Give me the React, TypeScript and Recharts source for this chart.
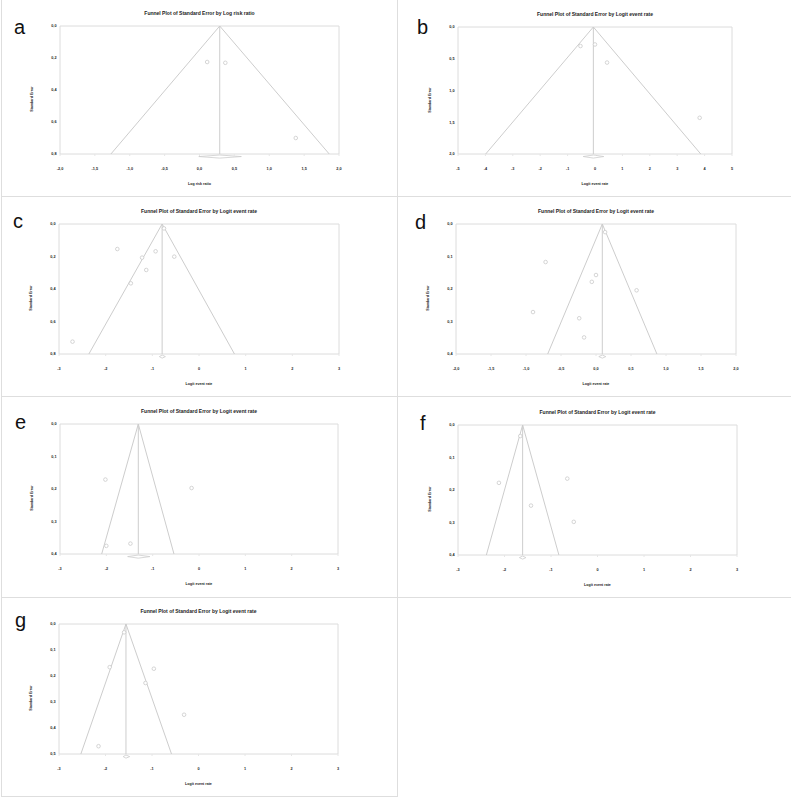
import React from 'react';
import { ComposedChart, XAxis, YAxis, Scatter, ReferenceLine, ReferenceArea } from 'recharts';

// panel letters, titles and axis names
const letters = ['a', 'b', 'c', 'd', 'e', 'f', 'g'];
const titles = [
  'Funnel Plot of Standard Error by Log risk ratio',
  'Funnel Plot of Standard Error by Logit event rate',
  'Funnel Plot of Standard Error by Logit event rate',
  'Funnel Plot of Standard Error by Logit event rate',
  'Funnel Plot of Standard Error by Logit event rate',
  'Funnel Plot of Standard Error by Logit event rate',
  'Funnel Plot of Standard Error by Logit event rate',
];
const xLabels = ['Log risk ratio', 'Logit event rate', 'Logit event rate', 'Logit event rate', 'Logit event rate', 'Logit event rate', 'Logit event rate'];
const yLabel = 'Standard Error';

// tick values
const xTicks = [
  [-2, -1.5, -1, -0.5, 0, 0.5, 1, 1.5, 2],
  [-5, -4, -3, -2, -1, 0, 1, 2, 3, 4, 5],
  [-3, -2, -1, 0, 1, 2, 3],
  [-2, -1.5, -1, -0.5, 0, 0.5, 1, 1.5, 2],
  [-3, -2, -1, 0, 1, 2, 3],
  [-3, -2, -1, 0, 1, 2, 3],
  [-3, -2, -1, 0, 1, 2, 3],
];
const xDecimals = [1, 0, 0, 1, 0, 0, 0];
const yTicks = [
  [0, 0.2, 0.4, 0.6, 0.8],
  [0, 0.5, 1, 1.5, 2],
  [0, 0.2, 0.4, 0.6, 0.8],
  [0, 0.1, 0.2, 0.3, 0.4],
  [0, 0.1, 0.2, 0.3, 0.4],
  [0, 0.1, 0.2, 0.3, 0.4],
  [0, 0.1, 0.2, 0.3, 0.4, 0.5],
];

// pooled estimate, funnel limits at max SE, and CI of the pooled diamond
const pooled = [0.29, -0.06, -0.79, 0.09, -1.31, -1.61, -1.56];
const funnelLo = [-1.27, -3.99, -2.36, -0.69, -2.1, -2.39, -2.53];
const funnelHi = [1.86, 3.86, 0.76, 0.87, -0.54, -0.83, -0.58];
const ciLo = [-0.01, -0.43, -0.85, 0.04, -1.54, -1.68, -1.62];
const ciHi = [0.6, 0.32, -0.72, 0.14, -1.06, -1.54, -1.48];

// studies (effect, standard error)
const studiesA = [
  { x: 0.11, se: 0.225 },
  { x: 0.37, se: 0.23 },
  { x: 1.38, se: 0.7 },
];
const studiesB = [
  { x: -0.53, se: 0.3 },
  { x: 0.0, se: 0.275 },
  { x: 0.44, se: 0.56 },
  { x: 3.82, se: 1.43 },
];
const studiesC = [
  { x: -1.75, se: 0.154 },
  { x: -0.93, se: 0.168 },
  { x: -1.22, se: 0.207 },
  { x: -0.53, se: 0.201 },
  { x: -1.13, se: 0.283 },
  { x: -1.46, se: 0.365 },
  { x: -2.71, se: 0.724 },
  { x: -0.75, se: 0.027 },
];
const studiesD = [
  { x: 0.13, se: 0.025 },
  { x: -0.72, se: 0.117 },
  { x: 0.0, se: 0.157 },
  { x: -0.06, se: 0.178 },
  { x: 0.58, se: 0.204 },
  { x: -0.9, se: 0.271 },
  { x: -0.24, se: 0.29 },
  { x: -0.17, se: 0.349 },
];
const studiesE = [
  { x: -2.02, se: 0.171 },
  { x: -0.16, se: 0.197 },
  { x: -2.0, se: 0.375 },
  { x: -1.48, se: 0.368 },
];
const studiesF = [
  { x: -1.66, se: 0.034 },
  { x: -2.12, se: 0.178 },
  { x: -0.65, se: 0.165 },
  { x: -1.43, se: 0.248 },
  { x: -0.51, se: 0.298 },
];
const studiesG = [
  { x: -1.6, se: 0.032 },
  { x: -1.91, se: 0.166 },
  { x: -0.96, se: 0.172 },
  { x: -1.14, se: 0.227 },
  { x: -0.31, se: 0.349 },
  { x: -2.15, se: 0.47 },
];
const studies = [studiesA, studiesB, studiesC, studiesD, studiesE, studiesF, studiesG];

// plot box of each panel on the page, and letter anchor
const boxes = [
  { x: 60, y: 26, w: 279, h: 128, lx: 14, ly: 34 },
  { x: 458, y: 27, w: 274, h: 127, lx: 417, ly: 34 },
  { x: 59, y: 224, w: 280, h: 130, lx: 13, ly: 228 },
  { x: 456, y: 224, w: 280, h: 130, lx: 415, ly: 229 },
  { x: 60, y: 424, w: 278, h: 130, lx: 15, ly: 429 },
  { x: 458, y: 425, w: 279, h: 130, lx: 420, ly: 430 },
  { x: 59, y: 624, w: 279, h: 130, lx: 15, ly: 627 },
];

const FONT = '"Liberation Sans", Arial, sans-serif';
const TEXT = '#222';
const LINE = '#cdcdcd';
const BOX = '#dcdcdc';
const CELL = '#dedede';

const fmt = (v: number, d: number) => v.toFixed(d).replace('.', ',');

function Panel({ i }: { i: number }) {
  const b = boxes[i];
  const xt = xTicks[i];
  const yt = yTicks[i];
  const xMin = xt[0];
  const xMax = xt[xt.length - 1];
  const yMax = yt[yt.length - 1];
  // diamond sits just under the plot box
  const yd = yMax * 1.02;
  const hd = yMax * 0.012;
  const diamond = [
    { x: ciLo[i], y: yd },
    { x: pooled[i], y: yd - hd },
    { x: ciHi[i], y: yd },
    { x: pooled[i], y: yd + hd },
  ];
  const tickStyle = { fontSize: 3.8, fill: TEXT, fontWeight: 700, fontFamily: FONT };

  return (
    <>
      <div
        style={{
          position: 'absolute',
          left: b.x,
          top: b.y - 18,
          width: b.w,
          height: 10,
          lineHeight: '10px',
          textAlign: 'center',
          fontFamily: FONT,
          fontWeight: 700,
          fontSize: 5,
          color: TEXT,
          whiteSpace: 'nowrap',
        }}
      >
        {titles[i]}
      </div>
      <div
        style={{
          position: 'absolute',
          left: b.lx,
          top: b.ly - 17,
          lineHeight: '20px',
          fontFamily: FONT,
          fontSize: 20,
          color: '#111',
        }}
      >
        {letters[i]}
      </div>
      <div
        style={{
          position: 'absolute',
          left: b.x - 28,
          top: b.y + b.h / 2 + 9,
          transform: 'translate(-50%, -50%) rotate(-90deg)',
          fontFamily: FONT,
          fontWeight: 700,
          fontSize: 3.6,
          color: TEXT,
          whiteSpace: 'nowrap',
        }}
      >
        {yLabel}
      </div>
      <div style={{ position: 'absolute', left: b.x - 60, top: b.y - 27 }}>
        <ComposedChart
          width={b.w + 120}
          height={b.h + 72}
          margin={{ top: 27, right: 60, bottom: 25, left: 50 }}
        >
          <XAxis
            dataKey="x"
            type="number"
            domain={[xMin, xMax]}
            ticks={xt}
            interval={0}
            axisLine={false}
            tickLine={{ stroke: '#e6e6e6' }}
            tickSize={2}
            tickMargin={11.5}
            height={20}
            tick={tickStyle}
            tickFormatter={(v: number) => fmt(v, xDecimals[i])}
            label={{
              value: xLabels[i],
              position: 'bottom',
              offset: 8,
              fontSize: 3.6,
              fontWeight: 700,
              fill: TEXT,
              fontFamily: FONT,
            }}
          />
          <YAxis
            dataKey="se"
            type="number"
            domain={[0, yMax]}
            ticks={yt}
            interval={0}
            reversed
            axisLine={false}
            tickLine={false}
            tickSize={2}
            tickMargin={1.5}
            width={10}
            tick={tickStyle}
            tickFormatter={(v: number) => fmt(v, 1)}
          />
          <ReferenceArea x1={xMin} x2={xMax} y1={0} y2={yMax} fill="none" stroke={BOX} strokeWidth={1} />
          <ReferenceLine x={pooled[i]} stroke={LINE} strokeWidth={1} />
          <ReferenceLine
            segment={[{ x: pooled[i], y: 0 }, { x: funnelLo[i], y: yMax }]}
            stroke={LINE}
            strokeWidth={1}
          />
          <ReferenceLine
            segment={[{ x: pooled[i], y: 0 }, { x: funnelHi[i], y: yMax }]}
            stroke={LINE}
            strokeWidth={1}
          />
          {diamond.map((p, k) => (
            <ReferenceLine
              key={k}
              segment={[p, diamond[(k + 1) % diamond.length]]}
              stroke={LINE}
              strokeWidth={0.8}
              ifOverflow="visible"
            />
          ))}
          <Scatter
            data={studies[i]}
            isAnimationActive={false}
            shape={(p: any) => (
              <circle cx={p.cx} cy={p.cy} r={1.8} fill="#fff" stroke="#cacaca" strokeWidth={0.8} />
            )}
          />
        </ComposedChart>
      </div>
    </>
  );
}

function line(left: number, top: number, width: number, height: number, key: string) {
  return <div key={key} style={{ position: 'absolute', left, top, width, height, background: CELL }} />;
}

export default function App() {
  return (
    <div
      style={{
        position: 'absolute',
        left: 0,
        top: 0,
        width: 791,
        height: 797,
        overflow: 'hidden',
        background: '#fff',
      }}
    >
      {line(1, 0, 1, 797, 'l')}
      {line(397, 0, 1, 797, 'm')}
      {line(1, 196, 790, 1, 'h1')}
      {line(1, 396, 790, 1, 'h2')}
      {line(1, 597, 790, 1, 'h3')}
      {line(1, 796, 396, 1, 'h4')}
      {letters.map((_, i) => (
        <Panel key={i} i={i} />
      ))}
    </div>
  );
}
